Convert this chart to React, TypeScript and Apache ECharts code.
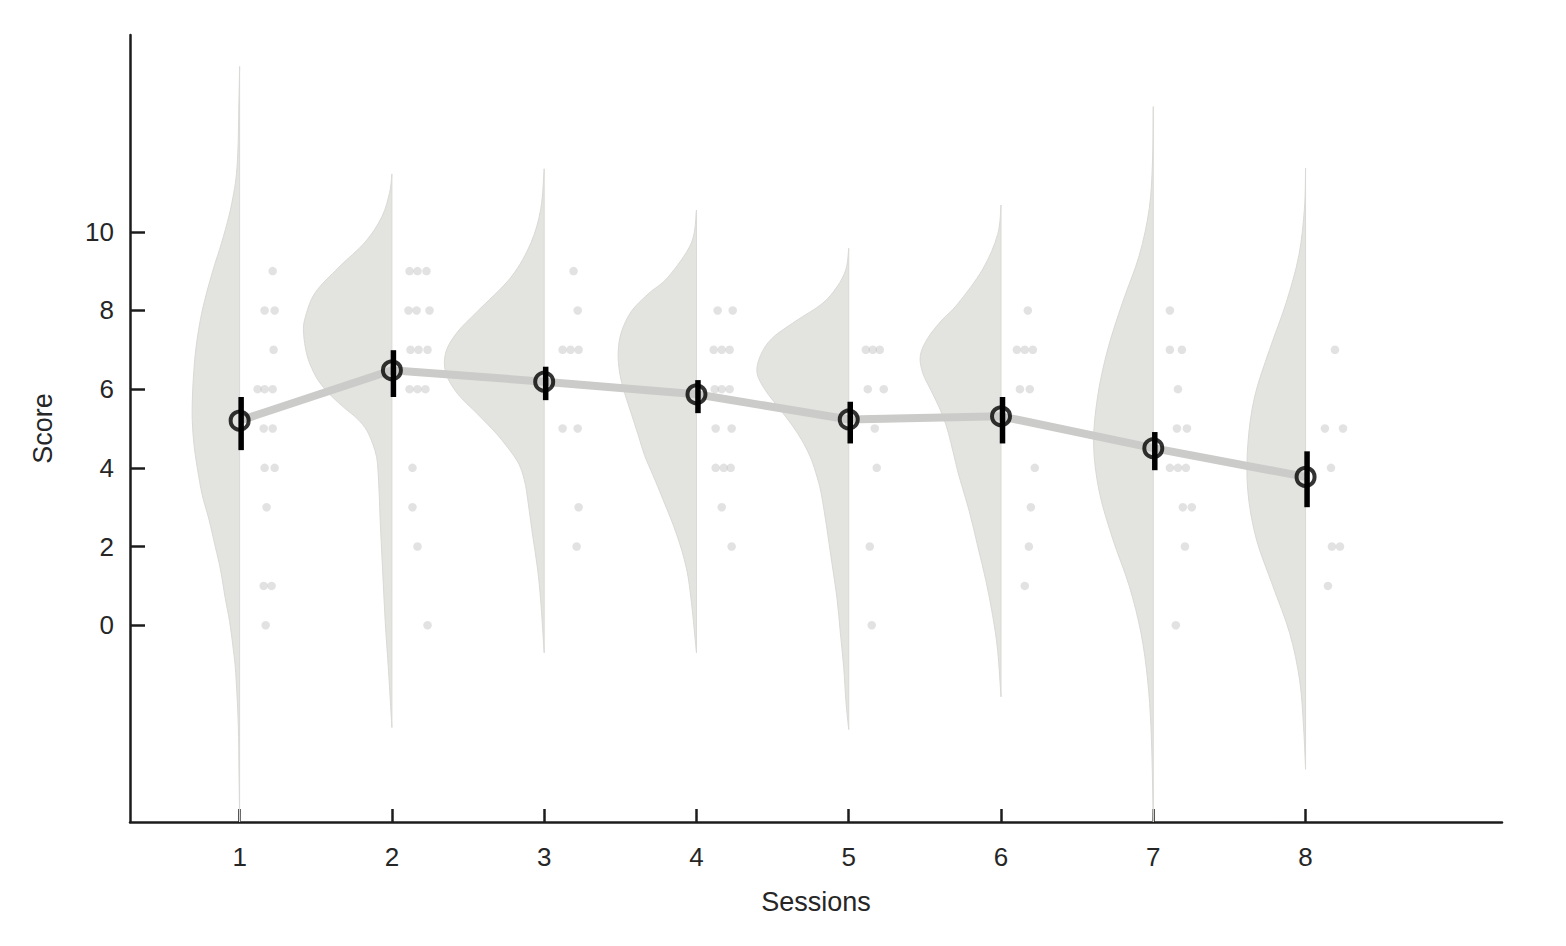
import React, { useEffect, useRef } from "react";
import * as echarts from "echarts";

// ---------- data ----------
const sessions = [1, 2, 3, 4, 5, 6, 7, 8];
const meanScores = [5.2, 6.48, 6.19, 5.87, 5.23, 5.31, 4.5, 3.77];
const ciLow = [4.45, 5.8, 5.72, 5.39, 4.62, 4.62, 3.94, 3.0];
const ciHigh = [5.8, 6.99, 6.57, 6.23, 5.68, 5.8, 4.91, 4.42];
const yTicks = [0, 2, 4, 6, 8, 10];

// half-violin outlines: [score, density width in session units], top to bottom
const violin1 = [[14.2, 0], [13.0, 0.006], [12.2, 0.01], [11.5, 0.02], [11.0, 0.038], [10.4, 0.07], [9.7, 0.12], [9.1, 0.169], [8.4, 0.22], [7.8, 0.256], [7.1, 0.285], [6.5, 0.3], [5.8, 0.31], [5.2, 0.311], [4.6, 0.3], [4.0, 0.278], [3.3, 0.245], [2.7, 0.202], [2.0, 0.16], [1.4, 0.125], [0.7, 0.095], [0.1, 0.066], [-0.6, 0.042], [-1.2, 0.026], [-2.5, 0.009], [-3.8, 0.004], [-5, 0]];
const violin2 = [[11.47, 0], [11.0, 0.015], [10.38, 0.066], [9.74, 0.175], [9.1, 0.348], [8.45, 0.504], [7.81, 0.57], [7.42, 0.58], [6.9, 0.56], [6.53, 0.526], [6.2, 0.48], [5.89, 0.414], [5.55, 0.32], [5.24, 0.225], [4.95, 0.165], [4.6, 0.125], [4.3, 0.102], [3.97, 0.092], [3.3, 0.083], [2.67, 0.077], [1.4, 0.061], [0.1, 0.044], [-1.17, 0.022], [-2.6, 0]];
const violin3 = [[11.6, 0], [10.59, 0.022], [9.72, 0.087], [8.85, 0.217], [7.98, 0.438], [7.45, 0.57], [6.94, 0.646], [6.41, 0.646], [5.89, 0.57], [5.37, 0.438], [4.84, 0.307], [4.31, 0.2], [4.0, 0.155], [3.6, 0.125], [3.19, 0.108], [2.32, 0.077], [1.45, 0.044], [0.58, 0.022], [-0.7, 0]];
const violin4 = [[10.55, 0], [9.72, 0.033], [8.85, 0.186], [8.42, 0.317], [7.98, 0.427], [7.45, 0.493], [6.94, 0.514], [6.41, 0.504], [5.89, 0.471], [5.37, 0.427], [4.84, 0.383], [4.31, 0.34], [3.8, 0.284], [3.19, 0.219], [2.32, 0.131], [1.45, 0.066], [0.58, 0.033], [-0.7, 0]];
const violin5 = [[9.58, 0], [9.05, 0.018], [8.6, 0.077], [8.17, 0.175], [7.73, 0.348], [7.29, 0.504], [6.85, 0.58], [6.41, 0.602], [5.97, 0.547], [5.53, 0.46], [5.09, 0.373], [4.65, 0.3], [4.21, 0.245], [3.77, 0.208], [3.33, 0.18], [2.45, 0.143], [1.57, 0.11], [0.69, 0.077], [-0.19, 0.055], [-1.07, 0.033], [-1.95, 0.018], [-2.65, 0]];
const violin6 = [[10.68, 0], [9.93, 0.022], [9.05, 0.12], [8.17, 0.284], [7.73, 0.394], [7.29, 0.482], [6.85, 0.53], [6.41, 0.514], [5.97, 0.46], [5.53, 0.405], [5.09, 0.361], [4.65, 0.33], [4.2, 0.302], [3.77, 0.274], [2.89, 0.208], [2.01, 0.153], [1.13, 0.099], [0.25, 0.055], [-0.64, 0.022], [-1.82, 0]];
const violin7 = [[13.18, 0], [11.8, 0.005], [10.6, 0.026], [9.4, 0.092], [8.2, 0.202], [7.0, 0.3], [5.8, 0.366], [4.6, 0.392], [3.4, 0.355], [2.2, 0.267], [1.0, 0.158], [-0.19, 0.081], [-1.39, 0.037], [-2.59, 0.015], [-3.8, 0.006], [-5, 0]];
const violin8 = [[11.62, 0], [10.6, 0.007], [9.4, 0.044], [8.2, 0.127], [7.0, 0.237], [5.8, 0.335], [4.6, 0.379], [3.4, 0.379], [2.2, 0.324], [1.0, 0.215], [-0.19, 0.105], [-1.39, 0.039], [-2.59, 0.013], [-3.66, 0]];
const violins = [violin1, violin2, violin3, violin4, violin5, violin6, violin7, violin8];

// raw scores: [offset right of the session, score]
const dots1 = [[0.217, 9], [0.164, 8], [0.23, 8], [0.223, 7], [0.118, 6], [0.164, 6], [0.217, 6], [0.158, 5], [0.217, 5], [0.164, 4], [0.23, 4], [0.177, 3], [0.158, 1], [0.21, 1], [0.171, 0]];
const dots2 = [[0.116, 9], [0.168, 9], [0.227, 9], [0.109, 8], [0.162, 8], [0.247, 8], [0.122, 7], [0.175, 7], [0.234, 7], [0.116, 6], [0.168, 6], [0.22, 6], [0.135, 4], [0.135, 3], [0.168, 2], [0.234, 0]];
const dots3 = [[0.193, 9], [0.22, 8], [0.121, 7], [0.173, 7], [0.226, 7], [0.121, 5], [0.22, 5], [0.226, 3], [0.213, 2]];
const dots4 = [[0.139, 8], [0.238, 8], [0.113, 7], [0.166, 7], [0.218, 7], [0.12, 6], [0.166, 6], [0.218, 6], [0.126, 5], [0.231, 5], [0.126, 4], [0.179, 4], [0.225, 4], [0.166, 3], [0.231, 2]];
const dots5 = [[0.112, 7], [0.158, 7], [0.204, 7], [0.125, 6], [0.23, 6], [0.171, 5], [0.184, 4], [0.138, 2], [0.151, 0]];
const dots6 = [[0.176, 8], [0.104, 7], [0.156, 7], [0.209, 7], [0.124, 6], [0.189, 6], [0.222, 4], [0.196, 3], [0.183, 2], [0.156, 1]];
const dots7 = [[0.109, 8], [0.109, 7], [0.188, 7], [0.162, 6], [0.155, 5], [0.221, 5], [0.109, 4], [0.162, 4], [0.214, 4], [0.194, 3], [0.253, 3], [0.208, 2], [0.148, 0]];
const dots8 = [[0.193, 7], [0.127, 5], [0.246, 5], [0.167, 4], [0.173, 2], [0.226, 2], [0.147, 1]];
const dotsBySession = [dots1, dots2, dots3, dots4, dots5, dots6, dots7, dots8];

const FONT = "'Liberation Sans', Arial, sans-serif";
const TEXT = "#262626";

function smoothOutline(pts: number[][], xRight: number): string {
  let d = `M${pts[0][0]},${pts[0][1]}`;
  for (let i = 0; i < pts.length - 1; i++) {
    const p0 = pts[i - 1] || pts[i];
    const p1 = pts[i];
    const p2 = pts[i + 1];
    const p3 = pts[i + 2] || p2;
    const c1x = Math.min(xRight, p1[0] + (p2[0] - p0[0]) / 6);
    const c1y = p1[1] + (p2[1] - p0[1]) / 6;
    const c2x = Math.min(xRight, p2[0] - (p3[0] - p1[0]) / 6);
    const c2y = p2[1] - (p3[1] - p1[1]) / 6;
    d += ` C${c1x},${c1y} ${c2x},${c2y} ${p2[0]},${p2[1]}`;
  }
  return d + " Z";
}

export default function App() {
  const ref = useRef<HTMLDivElement>(null);

  useEffect(() => {
    if (!ref.current) return;
    const chart = echarts.init(ref.current, null, { renderer: "svg" });

    const dotData: number[][] = [];
    dotsBySession.forEach((list, i) => {
      list.forEach(([off, v]) => dotData.push([sessions[i] + off, v]));
    });

    const option: any = {
      animation: false,
      backgroundColor: "#ffffff",
      grid: { left: 130, right: 64, top: 35, bottom: 124, outerBoundsMode: "none" },
      xAxis: {
        type: "value",
        min: 0.28,
        max: 9.29,
        name: "Sessions",
        nameLocation: "middle",
        nameGap: 66,
        nameTextStyle: { fontSize: 27, color: TEXT, fontFamily: FONT },
        axisLine: { show: true, onZero: false, lineStyle: { color: "#1c1c1c", width: 2.5 } },
        axisTick: { show: true, inside: true, length: 13, customValues: sessions, lineStyle: { color: "#1c1c1c", width: 2.5 } },
        axisLabel: { customValues: sessions, fontSize: 26, color: TEXT, fontFamily: FONT, margin: 22 },
        splitLine: { show: false },
      },
      yAxis: {
        type: "value",
        min: -5,
        max: 15,
        name: "Score",
        nameLocation: "middle",
        nameGap: 74,
        nameTextStyle: { fontSize: 27, color: TEXT, fontFamily: FONT },
        axisLine: { show: true, onZero: false, lineStyle: { color: "#1c1c1c", width: 2.5 } },
        axisTick: { show: true, inside: true, length: 15, customValues: yTicks, lineStyle: { color: "#1c1c1c", width: 2.5 } },
        axisLabel: { customValues: yTicks, fontSize: 26, color: TEXT, fontFamily: FONT, margin: 16 },
        splitLine: { show: false },
      },
      series: [
        {
          type: "custom",
          name: "density",
          z: 1,
          data: sessions.map((s) => [s, 0]),
          renderItem: (params: any, api: any) => {
            const idx = params.dataIndex;
            const s = sessions[idx];
            const right = api.coord([s, 0])[0];
            const pts = violins[idx].map(([v, w]) => api.coord([s - w, v]));
            return {
              type: "path",
              shape: { pathData: smoothOutline(pts, right) },
              style: { fill: "#e3e4e0", stroke: "#d9dad6", lineWidth: 1 },
            };
          },
        },
        {
          type: "scatter",
          name: "scores",
          z: 2,
          data: dotData,
          symbol: "circle",
          symbolSize: 8.5,
          itemStyle: { color: "rgba(190,190,190,0.55)" },
        },
        {
          type: "line",
          name: "mean line",
          z: 3,
          data: sessions.map((s, i) => [s, meanScores[i]]),
          symbol: "none",
          lineStyle: { color: "#cbccc9", width: 8 },
        },
        {
          type: "custom",
          name: "error",
          z: 4,
          data: sessions.map((s, i) => [s, ciLow[i], ciHigh[i]]),
          renderItem: (params: any, api: any) => {
            const s = api.value(0);
            const lo = api.coord([s, api.value(1)]);
            const hi = api.coord([s, api.value(2)]);
            return {
              type: "line",
              shape: { x1: lo[0] + 1.5, y1: lo[1], x2: hi[0] + 1.5, y2: hi[1] },
              style: { stroke: "#000000", lineWidth: 5.5 },
            };
          },
        },
        {
          type: "scatter",
          name: "mean",
          z: 5,
          data: sessions.map((s, i) => [s, meanScores[i]]),
          symbol: "circle",
          symbolSize: 18,
          itemStyle: { color: "rgba(0,0,0,0)", borderColor: "#000000", borderWidth: 4 },
        },
      ],
    };

    chart.setOption(option);
    return () => chart.dispose();
  }, []);

  return (
    <div
      ref={ref}
      style={{ position: "fixed", left: 0, top: 0, width: 1566, height: 946, background: "#fff" }}
    />
  );
}
